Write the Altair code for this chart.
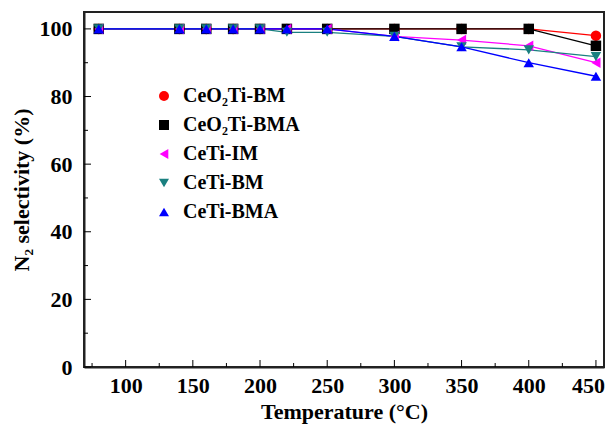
import altair as alt
import pandas as pd

temps = [80, 140, 160, 180, 200, 220, 250, 300, 350, 400, 450]
series_names = ["CeO₂Ti-BM", "CeO₂Ti-BMA", "CeTi-IM", "CeTi-BM", "CeTi-BMA"]
ceo2ti_bm = [100, 100, 100, 100, 100, 100, 100, 100, 100, 100, 98]
ceo2ti_bma = [100, 100, 100, 100, 100, 100, 100, 100, 100, 100, 95]
ceti_im = [100, 100, 100, 100, 100, 100, 100, 97.8, 96.7, 95, 90]
ceti_bm = [100, 100, 100, 100, 100, 99, 99, 97.8, 94.7, 93.8, 91.8]
ceti_bma = [100, 100, 100, 100, 100, 100, 100, 97.8, 94.7, 90, 86]
colors = ["#ff0000", "#000000", "#ff00ff", "#1a8080", "#0000ff"]
shapes = ["circle", "square", "triangle-left", "triangle-down", "triangle-up"]

x_major = [100, 150, 200, 250, 300, 350, 400, 450]
x_minor = [75, 125, 175, 225, 275, 325, 375, 425]
y_major = [0, 20, 40, 60, 80, 100]
y_minor = [10, 30, 50, 70, 90]

rows = []
for name, vals in zip(series_names, [ceo2ti_bm, ceo2ti_bma, ceti_im, ceti_bm, ceti_bma]):
    for t, v in zip(temps, vals):
        rows.append({"T": t, "S": v, "series": name, "order": series_names.index(name)})
df = pd.DataFrame(rows)

FONT = "Liberation Serif"
W, H = 520, 355
xs = alt.Scale(domain=[69, 456], nice=False, zero=False)
ys = alt.Scale(domain=[0, 105], nice=False, zero=False)
col = alt.Color("series:N", scale=alt.Scale(domain=series_names, range=colors), title=None,
                legend=alt.Legend(orient="none", legendX=70, legendY=74, labelFont=FONT,
                                  labelFontSize=20, labelFontWeight="bold", labelColor="black",
                                  symbolSize=100, rowPadding=9, labelOffset=9,
                                  symbolStrokeWidth=0))
shp = alt.Shape("series:N", scale=alt.Scale(domain=series_names, range=shapes), title=None)

xaxis = alt.Axis(values=x_major, labelFont=FONT, labelFontSize=22, labelFontWeight="bold",
                 labelColor="black", ticks=False, domain=True, domainColor="#222222",
                 domainWidth=2, grid=False, labelPadding=8,
                 labelOffset={"condition": {"test": "datum.value == 450", "value": -8}, "value": 0},
                 title="Temperature (°C)", titleFont=FONT, titleFontSize=22, titleFontWeight="bold",
                 titleColor="black", titlePadding=5)
yaxis = alt.Axis(values=y_major, labelFont=FONT, labelFontSize=22, labelFontWeight="bold",
                 labelColor="black", ticks=False, domain=True, domainColor="#222222",
                 domainWidth=2, grid=False, labelPadding=12,
                 title="N₂ selectivity (%)", titleFont=FONT, titleFontSize=22, titleFontWeight="bold",
                 titleColor="black", titlePadding=6)

lines = alt.Chart(df).mark_line(strokeWidth=1.3).encode(
    x=alt.X("T:Q", scale=xs, axis=xaxis),
    y=alt.Y("S:Q", scale=ys, axis=yaxis),
    color=alt.Color("series:N", scale=alt.Scale(domain=series_names, range=colors), legend=None),
    detail="series:N",
)
points = alt.Chart(df).mark_point(filled=True, size=110, opacity=1).encode(
    x=alt.X("T:Q", scale=xs),
    y=alt.Y("S:Q", scale=ys),
    color=col,
    shape=shp,
    order=alt.Order("order:Q"),
)

xmaj = alt.Chart(pd.DataFrame({"v": x_major})).mark_rule(color="black", strokeWidth=1).encode(
    x=alt.X("v:Q", scale=xs), y=alt.value(H), y2=alt.value(H - 7))
xmin = alt.Chart(pd.DataFrame({"v": x_minor})).mark_rule(color="black", strokeWidth=1).encode(
    x=alt.X("v:Q", scale=xs), y=alt.value(H), y2=alt.value(H - 4))
ymaj = alt.Chart(pd.DataFrame({"v": y_major})).mark_rule(color="black", strokeWidth=1).encode(
    y=alt.Y("v:Q", scale=ys), x=alt.value(0), x2=alt.value(7))
ymin = alt.Chart(pd.DataFrame({"v": y_minor})).mark_rule(color="black", strokeWidth=1).encode(
    y=alt.Y("v:Q", scale=ys), x=alt.value(0), x2=alt.value(4))

one = pd.DataFrame({"k": [0]})
FR = dict(color="#222222", strokeWidth=2)
top = alt.Chart(one).mark_rule(**FR).encode(x=alt.value(0), x2=alt.value(W), y=alt.value(0))
right = alt.Chart(one).mark_rule(**FR).encode(y=alt.value(0), y2=alt.value(H), x=alt.value(W))

chart = alt.layer(lines, points, xmaj, xmin, ymaj, ymin, top, right).resolve_scale(
    color="independent", shape="independent"
).properties(
    width=W, height=H,
    background="white",
    autosize=alt.AutoSizeParams(type="none"),
    padding={"left": 76, "top": 4, "right": 1, "bottom": 58},
).configure_view(stroke="#222222", strokeWidth=2)

chart.save("out.html", embed_options={"renderer": "svg", "actions": False})
